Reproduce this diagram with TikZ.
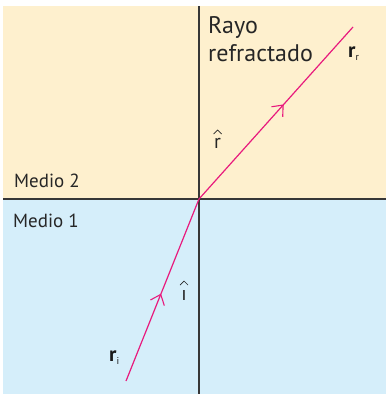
\documentclass[tikz,border=0pt]{standalone}
\usepackage{fontspec}
\setmainfont{PT Sans}
\usetikzlibrary{arrows.meta,decorations.markings}
\definecolor{beige}{RGB}{254,240,206}
\definecolor{lblue}{RGB}{213,238,250}
\definecolor{ray}{RGB}{232,26,125}
\definecolor{axis}{RGB}{55,55,55}
\begin{document}
\begin{tikzpicture}[x=1pt,y=-1pt,
  raystyle/.style={draw=ray,line width=1.2pt,postaction={decorate},
    decoration={markings,mark=at position #1 with {\arrow[ray,line width=1.1pt]{Straight Barb[length=9pt,width=15pt]}}}},
  lbl/.style={inner sep=0pt,font=\fontsize{19}{20}\selectfont,text=black!85,anchor=base west},
  big/.style={inner sep=0pt,font=\fontsize{24}{24}\selectfont,text=black!85,anchor=base west},
  vec/.style={inner sep=0pt,font=\fontsize{21}{20}\selectfont\bfseries,text=black!90}]
\useasboundingbox (0,0) rectangle (386,394);
\fill[beige] (3,6) rectangle (386,199);
\fill[lblue] (3,199) rectangle (386,394);
\coordinate (O) at (199,199);
\coordinate (L) at (3,199);
\coordinate (R) at (386,199);
\coordinate (T) at (199,6);
\coordinate (B) at (199,394);
\draw[axis,line width=1.1pt] (L) -- (R);
\draw[axis,line width=1.1pt] (T) -- (B);
\coordinate (Ri) at (126,381);
\coordinate (Rr) at (353,27);
\draw[raystyle=0.48] (Ri) -- (O);
\draw[raystyle=0.55] (O) -- (Rr);
\node[lbl] (m2) at (14,187) {Medio 2};
\node[lbl] (m1) at (13,227) {Medio 1};
\node[big] (rayo) at (208,33) {Rayo};
\node[big] (refr) at (208,61) {refractado};
\node[vec,anchor=base west] (rr) at (348,57) {r\textmd{\fontsize{10}{10}\selectfont\raisebox{-3pt}{r}}};
\node[vec,anchor=base west] (ri) at (109,361) {r\textmd{\fontsize{10}{10}\selectfont\raisebox{-3pt}{i}}};
\node[inner sep=0pt,font=\fontsize{20}{20}\selectfont,text=black!85,anchor=base west] (rh) at (214,148) {r};
\draw[black!85,line width=0.7pt] ([xshift=-4pt,yshift=14pt]rh.base) -- ++(4,-4) -- ++(4,4);
\node[inner sep=0pt,font=\fontsize{20}{20}\selectfont,text=black!85,anchor=base] (ih) at (184,300) {ı};
\draw[black!85,line width=0.7pt] ([xshift=-4pt,yshift=15pt]ih.base) -- ++(4,-4) -- ++(4,4);
\end{tikzpicture}
\end{document}
